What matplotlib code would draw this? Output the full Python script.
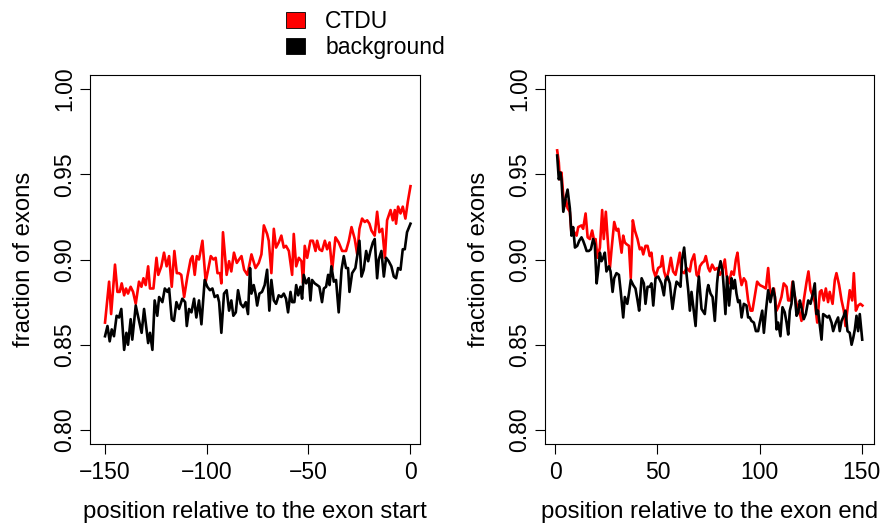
import numpy as np
import matplotlib
matplotlib.use("Agg")
import matplotlib.pyplot as plt
from matplotlib.patches import Patch

plt.rcParams['font.family'] = ['Liberation Sans', 'DejaVu Sans']

# ---- left panel: position relative to exon start ----
start_red_pos = [0, 2.0, 3.0, 4.9, 6.1, 7.2, 8.2, 9.4, 10.3, 11.3, 12.6, 13.8, 15.1, 16.7, 17.9,
                 18.9, 20.0, 21.2, 22.1, 23.8, 25.3, 26.2, 27.7, 29.0, 30.3, 31.5, 32.8, 34.1, 35.3,
                 36.4, 37.5, 38.9, 40.5, 42.1, 43.0, 44.1, 45.1, 46.2, 47.9, 49.5, 50.7, 52.0, 53.3,
                 54.4, 55.3, 56.6, 57.2, 58.0, 59.8, 61.0, 62.1, 63.4, 64.8, 65.9, 67.1, 68.4, 70.0,
                 72.0, 74.0, 75.6, 76.9, 78.1, 79.7, 80.5, 81.8, 83.0, 84.1, 85.4, 86.7, 87.9, 89.0,
                 90.4, 92.0, 92.8, 94.0, 95.3, 96.6, 97.4, 98.2, 99.4, 101.0, 102.2, 103.5, 104.3,
                 105.4, 106.7, 108.1, 109.2, 110.4, 111.7, 113.3, 114.9, 116.6, 118.5, 119.9, 121.2,
                 122.8, 124.0, 125.1, 126.4, 127.7, 128.9, 130.0, 131.0, 132.6, 133.8, 134.9, 136.3,
                 137.6, 138.7, 140.4, 141.5, 142.5, 143.1, 144.1, 145.3, 146.4, 147.7, 148.9, 150.2]
start_red = [0.863, 0.887, 0.868, 0.897, 0.881, 0.881, 0.886, 0.879, 0.883, 0.880, 0.884, 0.881, 0.874,
             0.887, 0.884, 0.889, 0.885, 0.896, 0.883, 0.883, 0.901, 0.891, 0.896, 0.904, 0.896, 0.902,
             0.884, 0.905, 0.892, 0.892, 0.891, 0.878, 0.890, 0.900, 0.902, 0.891, 0.902, 0.900, 0.911,
             0.887, 0.894, 0.902, 0.900, 0.901, 0.892, 0.892, 0.886, 0.916, 0.891, 0.899, 0.893, 0.904,
             0.898, 0.900, 0.902, 0.894, 0.891,
             0.903, 0.895, 0.898, 0.903, 0.920, 0.915, 0.911, 0.892, 0.918, 0.907, 0.910, 0.914, 0.907,
             0.908, 0.905, 0.891, 0.915, 0.896, 0.901, 0.899, 0.886, 0.908, 0.901, 0.911, 0.911, 0.905,
             0.911, 0.906, 0.905, 0.911, 0.906, 0.910, 0.894, 0.913, 0.910, 0.905, 0.905, 0.911, 0.919,
             0.912, 0.903, 0.918, 0.924, 0.922, 0.923, 0.921, 0.917, 0.914, 0.928, 0.916, 0.918, 0.901,
             0.923, 0.929, 0.923, 0.929, 0.921, 0.931, 0.927, 0.931, 0.924, 0.934, 0.943]

start_bg_pos = [0.0, 1.2, 2.3, 3.3, 4.4, 5.7, 6.9, 8.0, 9.4, 10.5, 11.3, 12.6, 13.4, 15.1, 16.7, 18.0,
                19.2, 21.2, 22.1, 23.3, 24.4, 25.7, 26.6, 28.2, 29.4, 30.7, 31.5, 32.8, 33.9, 35.1,
                36.4, 38.0, 39.4, 40.2, 41.3, 42.5, 43.8, 44.9, 46.2, 47.4, 49.0, 50.3, 51.6, 52.8,
                53.9, 55.3, 56.1, 57.2, 58.5, 59.8, 61.0, 62.1, 63.1, 64.3, 65.4, 66.7, 68.0, 69.2,
                70.3, 71.3, 72.0, 73.1, 74.0, 74.8, 75.9, 77.2, 78.5, 79.7, 80.8, 81.8, 83.0, 84.1,
                85.4, 86.7, 87.9, 89.0, 90.0, 91.2, 92.0, 93.1, 94.0, 95.0, 96.1, 96.9, 97.7, 98.9,
                100.2, 101.0, 101.8, 103.1, 104.3, 105.4, 106.7, 107.6, 108.7, 109.7, 110.4, 111.3,
                112.5, 113.6, 114.9, 116.3, 117.4, 118.5, 119.5, 120.2, 121.5, 123.1, 124.0, 125.1,
                126.1, 127.2, 128.4, 129.4, 130.5, 131.7, 132.6, 133.8, 134.6, 135.9, 137.1, 138.2,
                139.5, 140.8, 142.0, 143.1, 144.1, 145.3, 146.4, 147.4, 148.5, 150.2]
start_bg = [0.855, 0.861, 0.852, 0.859, 0.855, 0.867, 0.866, 0.871, 0.847, 0.857, 0.850, 0.865, 0.853,
            0.873, 0.864, 0.857, 0.871, 0.851, 0.857, 0.847, 0.876, 0.867, 0.878, 0.875, 0.883, 0.881,
            0.883, 0.865, 0.864, 0.875, 0.871, 0.877, 0.875, 0.861, 0.871, 0.869, 0.877, 0.866, 0.876,
            0.862, 0.888, 0.884, 0.882, 0.883, 0.878, 0.879, 0.875, 0.857, 0.880, 0.882, 0.870, 0.876,
            0.867, 0.869, 0.882, 0.874, 0.872, 0.875, 0.868, 0.895, 0.880, 0.885, 0.880, 0.873, 0.880,
            0.881, 0.885, 0.894, 0.870, 0.888, 0.876, 0.874, 0.879, 0.878, 0.880, 0.877, 0.869, 0.881,
            0.875, 0.875, 0.885, 0.879, 0.884, 0.877, 0.891, 0.886, 0.889, 0.876, 0.888, 0.886, 0.885,
            0.884, 0.875, 0.883, 0.884, 0.891, 0.885, 0.896, 0.887, 0.888, 0.869, 0.894, 0.902, 0.895,
            0.895, 0.881, 0.892, 0.895, 0.902, 0.911, 0.890, 0.894, 0.905, 0.899, 0.905, 0.910, 0.912,
            0.889, 0.900, 0.905, 0.890, 0.901, 0.899, 0.896, 0.890, 0.889, 0.895, 0.894, 0.906, 0.906,
            0.916, 0.921]

# ---- right panel: position relative to exon end ----
end_red_pos = [1.0, 1.8, 2.3, 3.1, 4.4, 5.3, 6.1, 7.2, 8.0, 8.8, 10.5, 11.3, 12.9, 13.7, 14.9, 15.9,
               17.0, 18.1, 19.1, 19.8, 20.7, 21.9, 23.0, 23.8, 24.8, 26.0, 26.8, 27.6, 28.9, 30.0,
               30.9, 31.8, 32.5, 33.3, 34.1, 34.9, 36.1, 37.0, 38.0, 39.0, 40.3, 41.4, 42.3, 43.1,
               44.2, 45.2, 46.3, 47.1, 48.0, 49.1, 50.4, 51.7, 52.4, 53.3, 54.5, 55.6, 56.6, 57.7,
               58.9, 59.9, 61.0, 61.8, 63.1, 64.3, 65.9, 66.7, 68.0, 69.2, 70.0, 70.8, 71.9, 72.9,
               73.7, 74.9, 75.7, 76.8, 78.1, 79.3, 80.6, 81.9, 83.0, 83.8, 85.0, 86.3, 87.4, 88.4,
               89.2, 90.3, 91.2, 92.3, 93.3, 94.4, 95.6, 96.5, 97.7, 98.8, 100.1, 101.8, 103.1, 104.2,
               105.0, 105.8, 107.0, 108.3, 109.4, 110.7, 111.8, 113.2, 114.0, 115.1, 116.1, 116.9,
               118.1, 119.4, 120.5, 121.6, 123.0, 123.9, 124.9, 126.2, 127.0, 128.2, 129.5, 130.3,
               131.4, 132.4, 133.5, 134.3, 135.7, 136.8, 137.6, 138.9, 140.1, 141.2, 142.0, 144.1,
               145.3, 146.1, 147.1, 148.2, 149.3, 150.3]
end_red = [0.964, 0.957, 0.947, 0.951, 0.931, 0.935, 0.930, 0.928, 0.915, 0.917, 0.914, 0.919, 0.920,
           0.918, 0.927, 0.913, 0.912, 0.917, 0.911, 0.912, 0.901, 0.907, 0.929, 0.912, 0.928, 0.907,
           0.895, 0.906, 0.922, 0.917, 0.918, 0.910, 0.904, 0.914, 0.910, 0.909, 0.908, 0.889, 0.923,
           0.917, 0.912, 0.906, 0.907, 0.903, 0.908, 0.908, 0.902, 0.904, 0.894, 0.890, 0.895, 0.896,
           0.902, 0.893, 0.888, 0.894, 0.901, 0.893, 0.891, 0.897, 0.904, 0.893, 0.892, 0.895, 0.893,
           0.899, 0.903, 0.891, 0.890, 0.896, 0.898, 0.899,
           0.902, 0.895, 0.893, 0.897, 0.894, 0.895, 0.891, 0.894, 0.900, 0.891, 0.886, 0.893, 0.891,
           0.900, 0.904, 0.891, 0.885, 0.889, 0.887, 0.876, 0.870, 0.870, 0.879, 0.887, 0.885, 0.884,
           0.883, 0.895, 0.883, 0.879, 0.883, 0.870, 0.873, 0.878, 0.886, 0.884, 0.876, 0.876, 0.887,
           0.880, 0.874, 0.870, 0.864, 0.876, 0.887, 0.893, 0.882, 0.878, 0.875, 0.863, 0.881, 0.882,
           0.876, 0.883, 0.875, 0.881, 0.874, 0.888, 0.892, 0.885, 0.876, 0.870, 0.861, 0.882, 0.876,
           0.892, 0.870, 0.873, 0.874, 0.873]

end_bg_pos = [1.0, 1.8, 2.6, 3.1, 4.0, 5.1, 6.1, 7.2, 8.0, 8.8, 9.7, 10.8, 11.8, 12.9, 13.7, 14.6,
              15.4, 16.5, 17.5, 18.6, 19.4, 20.3, 21.1, 21.9, 22.7, 23.5, 24.3, 25.1, 26.3, 27.1,
              28.1, 28.9, 30.0, 31.2, 32.1, 33.3, 34.1, 35.3, 36.1, 37.0, 38.2, 39.3, 40.3, 41.1,
              42.3, 43.4, 44.2, 45.2, 46.3, 47.1, 48.0, 49.1, 50.4, 51.2, 52.0, 53.2, 54.0, 55.0,
              56.1, 57.4, 58.6, 59.4, 60.2, 61.3, 62.1, 63.1, 64.3, 65.1, 65.9, 66.7, 68.0, 68.7,
              69.6, 70.3, 71.6, 73.2, 74.4, 74.9, 76.0, 77.0, 78.1, 79.2, 79.7, 80.9, 81.9, 82.5,
              83.3, 84.1, 85.1, 86.3, 87.1, 87.9, 88.7, 89.5, 90.3, 91.2, 92.3, 93.6, 94.4, 95.2,
              96.0, 97.2, 98.2, 99.3, 100.1, 101.3, 102.1, 103.1, 104.2, 105.3, 106.6, 107.5, 108.3,
              109.1, 110.2, 111.2, 112.3, 113.2, 114.0, 114.8, 115.6, 116.4, 117.2, 118.1, 118.9,
              119.7, 120.5, 121.6, 122.6, 123.8, 124.9, 125.9, 127.0, 127.8, 128.6, 129.5, 130.3,
              131.1, 132.2, 133.2, 134.0, 135.2, 136.0, 137.3, 138.4, 139.2, 140.1, 141.2, 142.0,
              143.0, 144.1, 145.0, 145.8, 146.6, 147.4, 148.2, 149.0, 150.2]
end_bg = [0.961, 0.947, 0.951, 0.947, 0.928, 0.936, 0.941, 0.930, 0.914, 0.919, 0.907, 0.908, 0.911,
          0.913, 0.911, 0.908, 0.905, 0.905, 0.906, 0.912, 0.909, 0.886, 0.894, 0.904, 0.899, 0.901,
          0.904, 0.893, 0.896, 0.893, 0.881, 0.889, 0.892, 0.891, 0.881, 0.866, 0.878, 0.874, 0.880,
          0.888, 0.885, 0.883, 0.876, 0.870, 0.889, 0.886, 0.874, 0.884, 0.884, 0.886, 0.873, 0.889,
          0.890, 0.888, 0.886, 0.879, 0.888, 0.890, 0.886, 0.871, 0.882, 0.887, 0.886, 0.884, 0.900,
          0.907, 0.891, 0.882, 0.870, 0.881, 0.868, 0.861, 0.881, 0.890, 0.871, 0.868,
          0.882, 0.885, 0.880, 0.878, 0.864, 0.886, 0.892, 0.899, 0.893, 0.883, 0.868, 0.890, 0.873,
          0.889, 0.883, 0.888, 0.880, 0.875, 0.876, 0.866, 0.874, 0.873, 0.866, 0.866, 0.864, 0.863,
          0.858, 0.858, 0.863, 0.870, 0.857, 0.870, 0.882, 0.875, 0.883, 0.878, 0.859, 0.863, 0.855,
          0.872, 0.869, 0.863, 0.856, 0.870, 0.874, 0.887, 0.879, 0.867, 0.869, 0.876, 0.872, 0.865,
          0.868, 0.876, 0.874, 0.879, 0.886, 0.868, 0.870, 0.861, 0.853, 0.868, 0.867, 0.866, 0.867,
          0.863, 0.858, 0.863, 0.866, 0.858, 0.864, 0.867, 0.870, 0.858, 0.857, 0.850, 0.854, 0.859,
          0.867, 0.858, 0.868, 0.853]

yticks = [0.80, 0.85, 0.90, 0.95, 1.00]

fig = plt.figure(figsize=(8.83, 5.26), dpi=100)
ax1 = fig.add_axes([0.1019, 0.1559, 0.3738, 0.7015])
ax2 = fig.add_axes([0.6172, 0.1559, 0.3726, 0.7015])

ax1.plot(np.array(start_red_pos) - 150, start_red, color='#ff0000', lw=1.9)
ax1.plot(np.array(start_bg_pos) - 150, start_bg, color='black', lw=1.9)
ax2.plot(end_red_pos, end_red, color='#ff0000', lw=1.9)
ax2.plot(end_bg_pos, end_bg, color='black', lw=1.9)

ax1.set_xlim(-157.4, 4.9)
ax2.set_xlim(-4.96, 155.96)
ax1.set_xticks([-150, -100, -50, 0])
ax2.set_xticks([0, 50, 100, 150])
ax1.set_xlabel('position relative to the exon start', fontsize=17.2, labelpad=12)
ax2.set_xlabel('position relative to the exon end', fontsize=17.2, labelpad=12)

for ax in (ax1, ax2):
    ax.set_ylim(0.7918, 1.0082)
    ax.set_yticks(yticks)
    ax.set_yticklabels(['%.2f' % v for v in yticks])
    ax.set_ylabel('fraction of exons', fontsize=17.2, labelpad=13)
    ax.tick_params(direction='out', length=7, width=0.8, labelsize=16.5, pad=5.5)
    ax.tick_params(axis='y', labelrotation=90, pad=3)
    for lab in ax.get_yticklabels():
        lab.set_va('center')
    for s in ax.spines.values():
        s.set_linewidth(0.8)

handles = [Patch(facecolor='#ff0000', edgecolor='black', lw=0.6),
           Patch(facecolor='black', edgecolor='black', lw=0.6)]
fig.legend(handles, ['CTDU', 'background'], loc='upper left',
           bbox_to_anchor=(0.301, 1.021), frameon=False, fontsize=16.5,
           handlelength=0.8, handleheight=0.7, handletextpad=0.9, labelspacing=0.15)

plt.savefig('out.png', dpi=100)
